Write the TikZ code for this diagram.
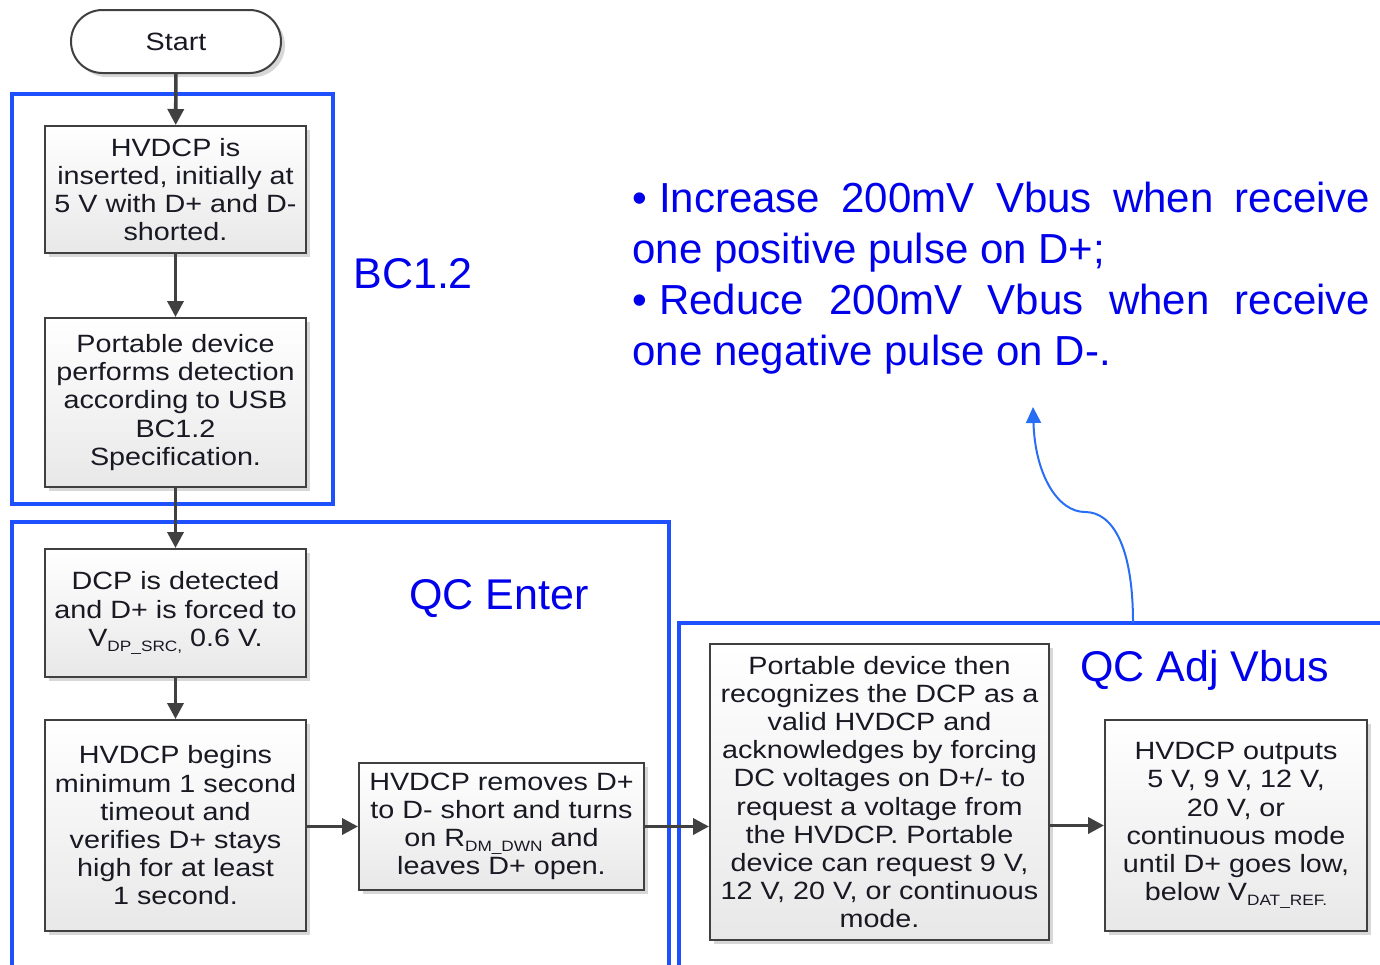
\documentclass[tikz,border=0pt]{standalone}
\usepackage{fontspec}
\setmainfont{Liberation Sans}
\newfontfamily\boxfont[FakeStretch=1.15]{Liberation Sans}
\usetikzlibrary{arrows.meta,shapes.misc,shadows}
\definecolor{frameblue}{RGB}{30,80,255}
\definecolor{labelblue}{RGB}{0,0,235}
\definecolor{curveblue}{RGB}{40,110,245}
\definecolor{boxline}{RGB}{64,64,64}
\definecolor{boxtext}{RGB}{25,25,35}
\newcommand\subtxt[1]{\raisebox{-2.5pt}{\fontsize{7.5}{8}\selectfont #1}}
\begin{document}
\begin{tikzpicture}[x=0.5pt,y=-0.5pt,
  stepbox/.style={draw=boxline, line width=1pt, rectangle, top color=white, bottom color=black!9,
    drop shadow={shadow xshift=2pt,shadow yshift=-2pt,fill=black!35,opacity=0.45},
    align=center, text=boxtext, font=\boxfont\fontsize{12.5}{14.1}\selectfont, inner sep=0pt},
  pill/.style={draw=boxline, line width=1pt, rounded rectangle, fill=white,
    drop shadow={shadow xshift=2pt,shadow yshift=-2pt,fill=black!35,opacity=0.45},
    text=boxtext, font=\boxfont\fontsize{12.5}{14.1}\selectfont, minimum width=105pt, minimum height=31.5pt, inner xsep=0pt},
  flow/.style={draw=boxline, line width=1.8pt, -{Triangle[width=8pt,length=8pt]}},
  frame/.style={draw=frameblue, line width=2pt},
  biglabel/.style={text=labelblue, font=\fontsize{21.5}{25}\selectfont, inner sep=0pt, anchor=base west},
  curve/.style={draw=curveblue, line width=1pt, -{Triangle[width=7.5pt,length=8pt]}}
]
\useasboundingbox (0,0) rectangle (1380,964);
\begin{scope}
\clip (0,0) rectangle (1380,964);
% frames
\draw[frame] (12,94) rectangle (333,504);
\draw[frame] (12,522) rectangle (669,990);
\draw[frame] (679,623) rectangle (1400,990);

% nodes
\node[pill, text width=105pt-31.5pt, align=center] (start) at (176,41.5) {Start};
\node[stepbox, minimum width=130.5pt, minimum height=63.5pt] (b1) at (175.5,189.5)
  {HVDCP is\\inserted, initially at\\5 V with D+ and D-\\shorted.};
\node[stepbox, minimum width=130.5pt, minimum height=84.5pt] (b2) at (175.5,402.5)
  {Portable device\\performs detection\\according to USB\\BC1.2\\Specification.};
\node[stepbox, minimum width=130.5pt, minimum height=64pt] (b3) at (175.5,613)
  {DCP is detected\\and D+ is forced to\\V\subtxt{DP\_SRC,} 0.6 V.};
\node[stepbox, minimum width=130.5pt, minimum height=105.5pt] (b4) at (175.5,825.5)
  {HVDCP begins\\minimum 1 second\\timeout and\\verifies D+ stays\\high for at least\\1 second.};
\node[stepbox, minimum width=142.5pt, minimum height=63.5pt] (b5) at (501.5,826.5)
  {HVDCP removes D+\\to D- short and turns\\on R\subtxt{DM\_DWN} and\\leaves D+ open.};
\node[stepbox, minimum width=169.5pt, minimum height=148pt] (b6) at (879.5,792)
  {Portable device then\\recognizes the DCP as a\\valid HVDCP and\\acknowledges by forcing\\DC voltages on D+/- to\\request a voltage from\\the HVDCP. Portable\\device can request 9 V,\\12 V, 20 V, or continuous\\mode.};
\node[stepbox, minimum width=131pt, minimum height=105.5pt] (b7) at (1236,825.5)
  {HVDCP outputs\\5 V, 9 V, 12 V,\\20 V, or\\continuous mode\\until D+ goes low,\\below V\subtxt{DAT\_REF.}};

% connectors
\draw[flow] (start) -- (b1);
\draw[flow] (b1) -- (b2);
\draw[flow] (b2) -- (b3);
\draw[flow] (b3) -- (b4);
\draw[flow] (b4.east |- b5.west) -- (b5.west);
\draw[flow] (b5.east) -- (b5.east -| b6.west);
\draw[flow] (b6.east |- b7.west) -- (b7.west);

% labels
\node[biglabel] (lbc) at (353,288) {BC1.2};
\node[biglabel] (lqce) at (409,609) {QC Enter};
\node[biglabel] (lqca) at (1080,681) {QC Adj Vbus};

\node[text=labelblue, font=\fontsize{21}{25.5}\selectfont, inner sep=0pt, anchor=base west, align=left] (bul) at (632,365)
  {\makebox[369pt][s]{\mbox{•\kern6pt Increase} 200mV Vbus when receive}\\one positive pulse on D+;\\\makebox[369pt][s]{\mbox{•\kern6pt Reduce} 200mV Vbus when receive}\\one negative pulse on D-.};

% curved arrow
\coordinate (cs) at (1133,623);
\coordinate (ce) at (1033,407);
\draw[curve] (cs) .. controls (1133,545) and (1112,512) .. (1085,512) .. controls (1058,512) and (1035,475) .. (ce);
\end{scope}
\end{tikzpicture}
\end{document}
